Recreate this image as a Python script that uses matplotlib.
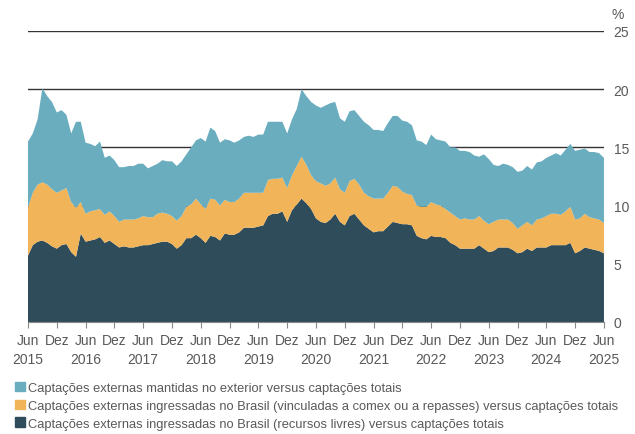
import numpy as np
import matplotlib.pyplot as plt
from matplotlib.patches import Patch

# monthly, Jun 2015 .. Jun 2025 (121 points), % of total funding
livres = [5.7, 6.6, 6.9, 7.0, 6.8, 6.5, 6.3, 6.6, 6.7, 6.0, 5.6, 7.6, 6.9, 7.0, 7.1, 7.3, 6.8, 7.0, 6.7, 6.4,
          6.5, 6.4, 6.4, 6.5, 6.6, 6.6, 6.7, 6.8, 6.9, 6.9, 6.7, 6.3, 6.6, 7.2, 7.2, 7.5, 7.2, 6.8, 7.4, 7.3,
          7.0, 7.6, 7.5, 7.5, 7.7, 8.1, 8.1, 8.1, 8.2, 8.3, 9.1, 9.3, 9.3, 9.5, 8.6, 9.6, 10.1, 10.6, 10.2, 9.7,
          8.9, 8.6, 8.5, 8.8, 9.3, 8.6, 8.3, 9.1, 9.3, 8.8, 8.3, 8.0, 7.7, 7.8, 7.8, 8.2, 8.6, 8.5, 8.4, 8.4,
          8.3, 7.4, 7.2, 7.1, 7.4, 7.3, 7.3, 7.2, 6.8, 6.6, 6.3, 6.3, 6.3, 6.3, 6.6, 6.3, 6.0, 6.1, 6.4, 6.4,
          6.4, 6.2, 5.9, 6.0, 6.3, 6.1, 6.4, 6.4, 6.4, 6.6, 6.6, 6.6, 6.6, 6.8, 5.9, 6.1, 6.4, 6.3, 6.2, 6.1,
          5.9]
comex = [4.15, 4.5, 4.9, 5.0, 5.0, 4.9, 4.8, 4.7, 4.8, 4.3, 4.2, 2.7, 2.4, 2.5, 2.5, 2.4, 2.4, 2.5, 2.4, 2.2,
         2.3, 2.4, 2.4, 2.4, 2.5, 2.4, 2.3, 2.5, 2.5, 2.4, 2.4, 2.4, 2.5, 2.7, 2.9, 3.1, 2.9, 2.9, 3.2, 3.2,
         3.0, 2.9, 2.8, 2.8, 2.9, 3.0, 3.0, 3.0, 2.9, 2.8, 3.1, 3.0, 3.0, 2.9, 2.9, 3.0, 3.3, 3.6, 3.3, 2.9,
         3.2, 3.3, 3.2, 3.1, 3.1, 2.8, 2.8, 3.0, 3.0, 3.0, 2.8, 2.8, 2.9, 2.8, 2.8, 2.9, 3.1, 3.1, 2.8, 2.6,
         2.6, 2.6, 2.7, 2.8, 2.9, 2.8, 2.7, 2.5, 2.6, 2.5, 2.5, 2.6, 2.5, 2.5, 2.5, 2.4, 2.4, 2.5, 2.4, 2.4,
         2.4, 2.3, 2.1, 2.3, 2.3, 2.2, 2.4, 2.5, 2.7, 2.7, 2.7, 2.6, 2.9, 3.1, 2.9, 2.8, 2.9, 2.7, 2.7, 2.7,
         2.6]
exterior = [5.65, 5.1, 5.6, 8.1, 7.6, 7.5, 6.9, 6.9, 6.3, 5.9, 7.4, 6.9, 6.1, 5.8, 5.5, 5.8, 4.9, 4.8, 4.8, 4.7,
            4.5, 4.6, 4.6, 4.7, 4.5, 4.2, 4.4, 4.3, 4.5, 4.5, 4.7, 4.7, 4.7, 4.5, 4.9, 5.0, 5.7, 5.8, 6.1, 5.9,
            5.4, 5.2, 5.3, 5.1, 5.0, 4.8, 4.9, 4.8, 5.0, 5.0, 5.0, 4.9, 4.9, 4.8, 4.7, 4.8, 4.9, 5.8, 5.9, 6.3,
            6.5, 6.5, 6.9, 6.9, 6.5, 6.1, 6.1, 6.0, 5.9, 5.9, 6.1, 6.1, 5.9, 5.9, 5.8, 6.0, 6.0, 6.1, 6.1, 6.2,
            6.0, 5.6, 5.6, 5.3, 5.8, 5.6, 5.6, 5.8, 5.6, 5.9, 5.9, 5.8, 5.8, 5.5, 5.1, 5.7, 5.6, 4.9, 4.6, 4.8,
            4.7, 4.8, 4.9, 4.7, 4.8, 4.8, 4.9, 4.9, 5.0, 5.0, 5.2, 5.1, 5.3, 5.4, 5.9, 5.9, 5.6, 5.6, 5.7, 5.7,
            5.6]

tick_labels = ['Jun\n2015', 'Dez', 'Jun\n2016', 'Dez', 'Jun\n2017', 'Dez', 'Jun\n2018', 'Dez',
               'Jun\n2019', 'Dez', 'Jun\n2020', 'Dez', 'Jun\n2021', 'Dez', 'Jun\n2022', 'Dez',
               'Jun\n2023', 'Dez', 'Jun\n2024', 'Dez', 'Jun\n2025']

labels = ['Captações externas mantidas no exterior versus captações totais',
          'Captações externas ingressadas no Brasil (vinculadas a comex ou a repasses) versus captações totais',
          'Captações externas ingressadas no Brasil (recursos livres) versus captações totais']

c_dark = '#2f4c5a'
c_orange = '#f1b458'
c_blue = '#6aadbf'
grey = '#595959'

plt.rcParams['font.family'] = ['Liberation Sans', 'DejaVu Sans']

fig = plt.figure(figsize=(6.35, 4.35), dpi=100)
ax = fig.add_axes([0.0441, 0.2575, 0.907, 0.669])

x = np.arange(len(livres))
ax.stackplot(x, livres, comex, exterior, colors=[c_dark, c_orange, c_blue], lw=0)

ax.set_xlim(0, 120)
ax.set_ylim(0, 25)
ax.set_yticks([0, 5, 10, 15, 20, 25])
ax.yaxis.tick_right()
ax.tick_params(axis='y', length=0, pad=7, labelsize=10, labelcolor=grey)
ax.set_xticks(np.arange(0, 121, 6))
ax.set_xticklabels(tick_labels, linespacing=1.45)
ax.tick_params(axis='x', length=4, color='#888888', pad=4, labelsize=10, labelcolor=grey)

ax.set_axisbelow(True)
ax.grid(axis='y', color='#333333', lw=1)
for s in ['top', 'left', 'right']:
    ax.spines[s].set_visible(False)
ax.spines['bottom'].set_color('#888888')

fig.text(612 / 635, 1 - 15 / 435, '%', fontsize=10, color=grey, va='center')

handles = [Patch(color=c_blue), Patch(color=c_orange), Patch(color=c_dark)]
fig.legend(handles, labels, loc='upper left', bbox_to_anchor=(15 / 635, 1 - 383 / 435), frameon=False,
           fontsize=9.3, labelcolor=grey, handlelength=0.75, handleheight=0.75, handletextpad=0.25,
           labelspacing=0.42, borderpad=0, borderaxespad=0)

plt.savefig('out.png')
